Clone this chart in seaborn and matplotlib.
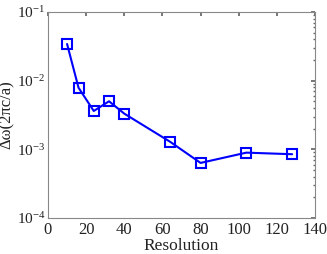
import matplotlib
matplotlib.use("Agg")
import matplotlib.pyplot as plt
import seaborn as sns
import pandas as pd
from matplotlib.ticker import LogLocator, FixedLocator

resolution = [10, 16, 24, 32, 40, 64, 80, 104, 128]
delta_omega = [0.0342, 0.0079, 0.00362, 0.00501, 0.00331, 0.00129, 0.000634, 0.000895, 0.000849]
x_ticks = [0, 20, 40, 60, 80, 100, 120, 140]

df = pd.DataFrame({"Resolution": resolution, "dw": delta_omega})

sns.set_theme(style="white")
plt.rcParams['font.family'] = ['Liberation Serif', 'DejaVu Serif']
plt.rcParams['mathtext.fontset'] = 'stix'

fig = plt.figure(figsize=(3.27, 2.54), dpi=100)
ax = fig.add_axes([48/327, 1-218/254, (315-48)/327, (218-12)/254])

sns.lineplot(data=df, x="Resolution", y="dw", ax=ax, color="#0000ff", lw=1.5,
             marker="s", markersize=6.5, markerfacecolor="none",
             markeredgecolor="#0000ff", markeredgewidth=1.5)

ax.set_yscale("log")
ax.set_ylim(1e-4, 1e-1)
ax.set_xlim(0, 140)
ax.xaxis.set_major_locator(FixedLocator(x_ticks))
ax.set_xticklabels([str(t) for t in x_ticks])
ax.yaxis.set_major_locator(LogLocator(base=10, numticks=10))
ax.yaxis.set_minor_locator(LogLocator(base=10, subs=range(2, 10), numticks=20))

for s in ax.spines.values():
    s.set_color("#888888")
    s.set_linewidth(0.8)
ax.tick_params(which="both", direction="in", top=True, right=True,
               color="#666666", labelcolor="#222222", pad=3)
ax.tick_params(axis="x", labelsize=12)
ax.tick_params(axis="y", labelsize=11, pad=2)
ax.tick_params(which="major", length=3)
ax.tick_params(which="minor", length=1.8)

ax.set_xlabel("Resolution", fontsize=12.5, color="#222222", labelpad=0)
ax.set_ylabel("Δω(2πc/a)", fontsize=12, color="#222222", labelpad=1)

fig.savefig("out.png", dpi=100)
